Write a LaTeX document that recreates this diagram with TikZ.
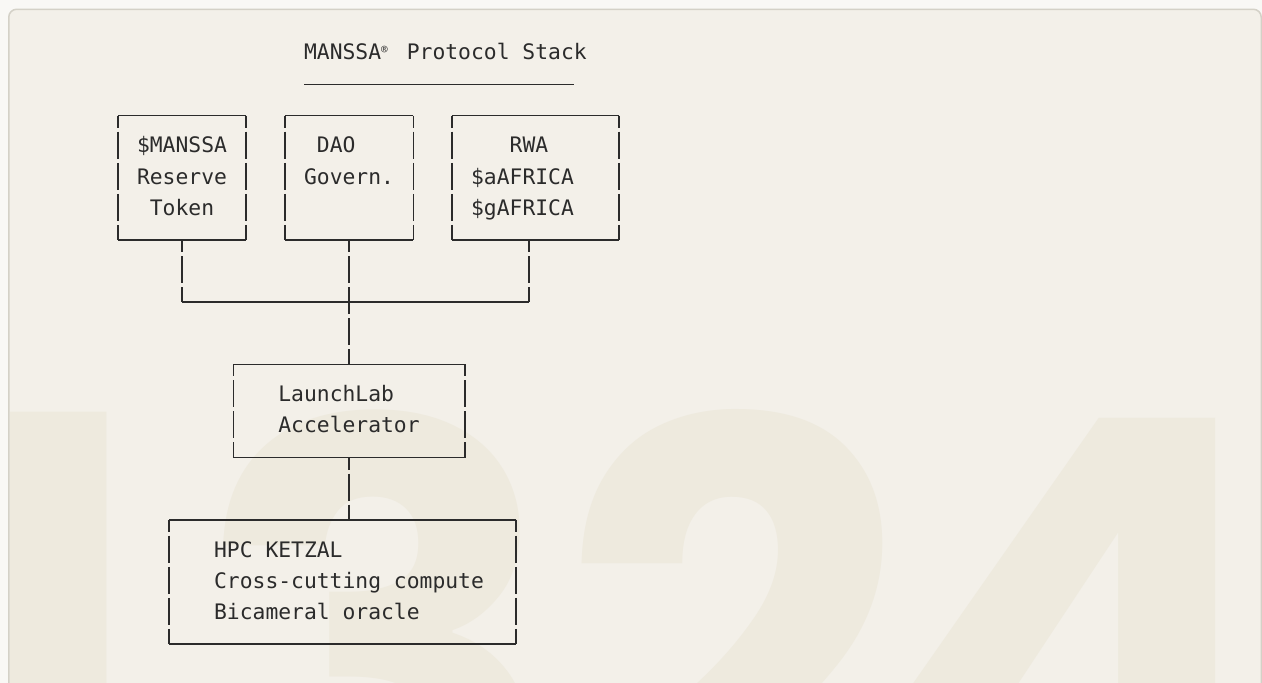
\documentclass[tikz,border=0pt]{standalone}
\usepackage{fontspec}
\newfontfamily\monofont{DejaVu Sans Mono}
\newfontfamily\wmfont{Poppins}
\definecolor{outerbg}{HTML}{F9F8F5}
\definecolor{panelbg}{HTML}{F3F0E9}
\definecolor{panelborder}{HTML}{D4D1C7}
\definecolor{wmcolor}{HTML}{EEEADE}
\definecolor{ink}{HTML}{2B2B2B}
\def\C{12.85}
\def\R{31.08}
\def\XO{117.75}
\def\YO{53.52}
\newcommand\asciibox[5]{%
  \node[boxshape, minimum width={\C*(#3-#2)*1pt}, minimum height={\R*(#5-#4)*1pt}] (#1)
    at ({\XO+\C*(#2+#3)/2},{\YO+\R*(#4+#5)/2}) {};
  \draw[hg] (#1.north west) -- (#1.north east);
  \draw[hg] (#1.south west) -- (#1.south east);
  \draw[vg] (#1.north west) -- (#1.south west);
  \draw[vg] (#1.north east) -- (#1.south east);
}
\tikzset{
  boxshape/.style={rectangle, inner sep=0pt, outer sep=0pt, draw=none},
  txt/.style={inner sep=0pt, outer sep=0pt, align=left, anchor=north west, text=ink,
    font=\monofont\fontsize{21.34pt}{31.08pt}\selectfont},
  hg/.style={draw=ink, line width=1.6pt},
  vg/.style={draw=ink, line width=1.6pt, dash pattern=on 27.08pt off 4pt, dash phase=15.08pt},
  wm/.style={anchor=north, inner sep=0pt, outer sep=0pt, text=wmcolor,
    font=\wmfont\bfseries\fontsize{610pt}{610pt}\selectfont},
}
\begin{document}
\begin{tikzpicture}[x=1pt,y=-1pt]
\useasboundingbox (0,0) rectangle (1262,683);
\fill[outerbg] (0,0) rectangle (1262,683);
\path[fill=panelbg, draw=panelborder, line width=1.5pt, rounded corners=8pt] (8.75,9.25) rectangle (1261.25,720);
% watermark
\begin{scope}
  \clip[rounded corners=8pt] (9.5,10) rectangle (1260.5,720);
  \node[wm] (w1) at (36,412) {1};
  \node[wm] (w3) at (377,410) {3};
  \node[wm] (w2) at (734,409) {2};
  \node[wm] (w4) at (1083,418) {4};
\end{scope}
% title
\node[txt] (title) at ({\XO+\C*14.5},{\YO-\R*0.5})
  {\strut MANSSA\makebox[\C pt][l]{\raisebox{6pt}{\fontsize{11pt}{11pt}\selectfont ®}} Protocol Stack};
\draw[hg] ([yshift=-15.54pt]title.south west) -- ([xshift=-\C pt,yshift=-15.54pt]title.south east);
% boxes
\asciibox{m}{0}{10}{2}{6}
\asciibox{dao}{13}{23}{2}{6}
\asciibox{rwa}{26}{39}{2}{6}
\asciibox{ll}{9}{27}{10}{13}
\asciibox{hpc}{4}{31}{15}{19}
% texts
\node[txt] (mtext) at ({\XO+\C*1.5},{\YO+\R*2.5})
  {\strut\$MANSSA\\\strut Reserve\\\strut\hphantom{X}Token};
\node[txt] (daotext) at ({\XO+\C*14.5},{\YO+\R*2.5})
  {\strut\hphantom{X}DAO\\\strut Govern.};
\node[txt] (rwatext) at ({\XO+\C*27.5},{\YO+\R*2.5})
  {\strut\hphantom{XXX}RWA\\\strut\$aAFRICA\\\strut\$gAFRICA};
\node[txt] (lltext) at ({\XO+\C*12.5},{\YO+\R*10.5})
  {\strut LaunchLab\\\strut Accelerator};
\node[txt] (hpctext) at ({\XO+\C*7.5},{\YO+\R*15.5})
  {\strut HPC KETZAL\\\strut Cross-cutting compute\\\strut Bicameral oracle};
% connectors
\coordinate (j) at ({\XO+\C*18},{\YO+\R*8});
\draw[vg] (m.south) -- (m.south |- j);
\draw[vg] ([xshift=-6.425pt]rwa.south) -- ([xshift=-6.425pt]rwa.south |- j);
\draw[hg] (m.south |- j) -- ([xshift=-6.425pt]rwa.south |- j);
\draw[vg] (dao.south) -- (ll.north);
\draw[vg] (ll.south) -- (ll.south |- hpc.north);
\end{tikzpicture}
\end{document}
